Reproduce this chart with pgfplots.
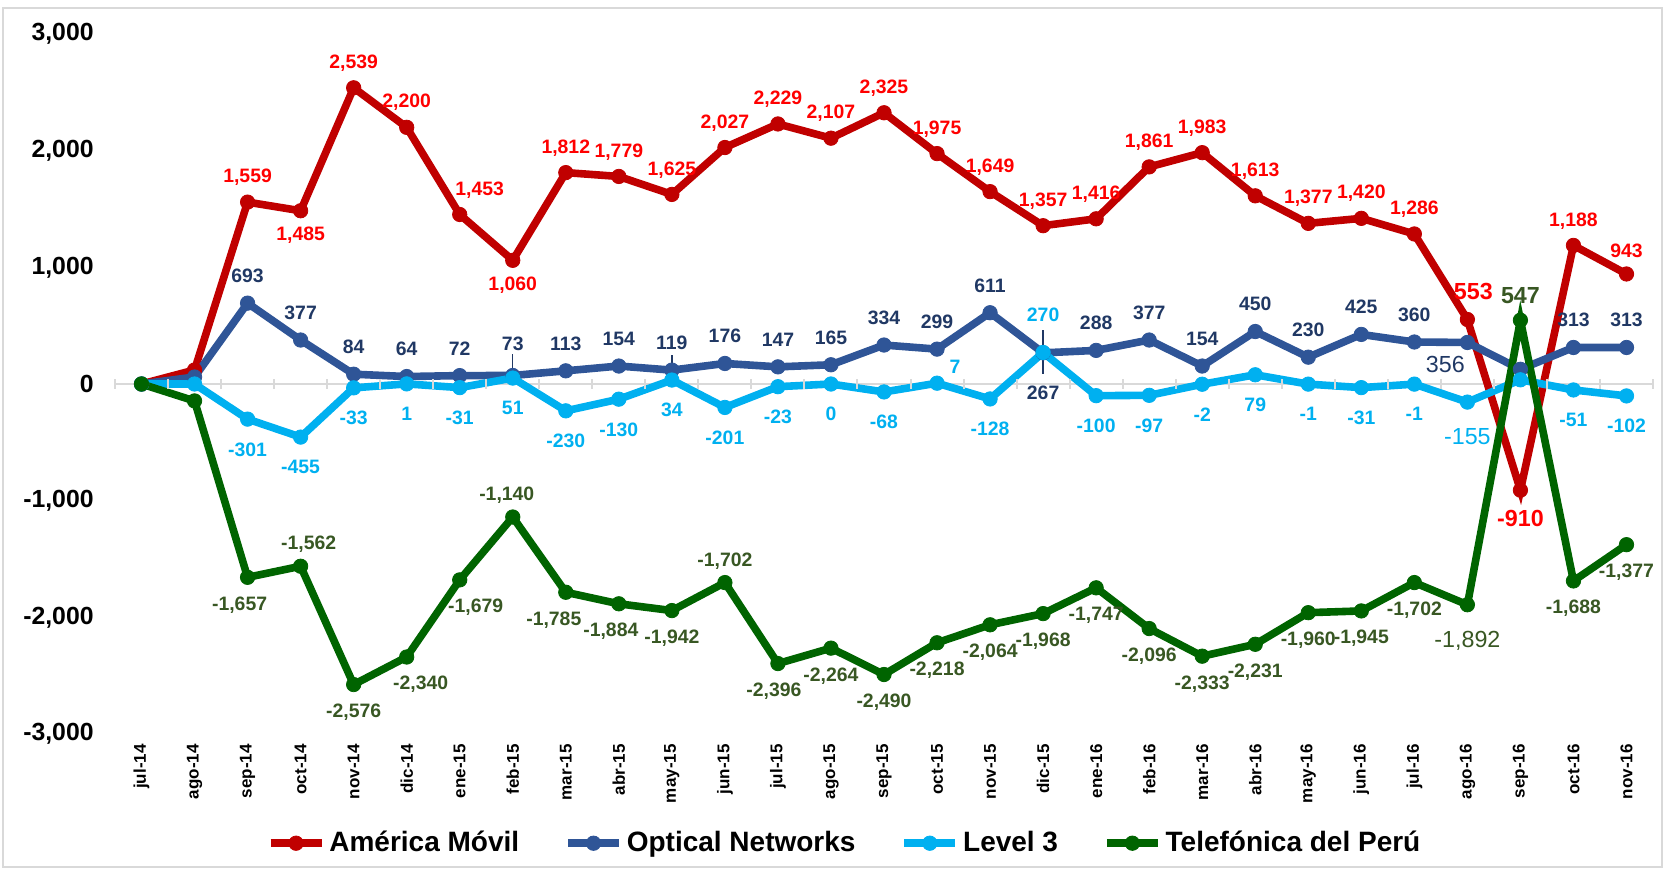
\documentclass[border=0pt]{standalone}
\usepackage{fontspec}
\setmainfont{Liberation Sans}
\usepackage{pgfplots}
\usepackage{pgfplotstable}
\pgfplotsset{compat=1.18}

\definecolor{amLine}{HTML}{C00000}
\definecolor{amText}{HTML}{FF0000}
\definecolor{onLine}{HTML}{2F5597}
\definecolor{onText}{HTML}{203864}
\definecolor{lvLine}{HTML}{00B0F0}
\definecolor{lvText}{HTML}{00B0F0}
\definecolor{tpLine}{HTML}{006400}
\definecolor{tpText}{HTML}{385723}
\definecolor{frameGray}{HTML}{D9D9D9}

% lbl = anchor/xshift(pt)/yshift(pt)/scale/regular weight/shown
\pgfplotstableread{
x y lbl
0 0 south/0/0/1/0/0
1 120 south/0/0/1/0/0
2 1559 south/0/0/1/0/1
3 1485 north/0/0/1/0/1
4 2539 south/0/0/1/0/1
5 2200 south/0/0/1/0/1
6 1453 south/10/0/1/0/1
7 1060 north/0/0/1/0/1
8 1812 south/0/0/1/0/1
9 1779 south/0/0/1/0/1
10 1625 south/0/0/1/0/1
11 2027 south/0/0/1/0/1
12 2229 south/0/0/1/0/1
13 2107 south/0/0/1/0/1
14 2325 south/0/0/1/0/1
15 1975 south/0/0/1/0/1
16 1649 south/0/0/1/0/1
17 1357 south/0/0/1/0/1
18 1416 south/0/0/1/0/1
19 1861 south/0/0/1/0/1
20 1983 south/0/0/1/0/1
21 1613 south/0/0/1/0/1
22 1377 south/0/0/1/0/1
23 1420 south/0/0/1/0/1
24 1286 south/0/0/1/0/1
25 553 south/3/0/1.2/0/1
26 -910 north/0/0/1.2/0/1
27 1188 south/0/0/1/0/1
28 943 south/0/0/1/0/1
}\amovil

\pgfplotstableread{
x y lbl
0 0 south/0/0/1/0/0
1 60 south/0/0/1/0/0
2 693 south/0/0/1/0/1
3 377 south/0/0/1/0/1
4 84 south/0/0/1/0/1
5 64 south/0/0/1/0/1
6 72 south/0/0/1/0/1
7 73 south/0/2/1/0/1
8 113 south/0/0/1/0/1
9 154 south/0/0/1/0/1
10 119 south/0/0/1/0/1
11 176 south/0/0/1/0/1
12 147 south/0/0/1/0/1
13 165 south/0/0/1/0/1
14 334 south/0/0/1/0/1
15 299 south/0/0/1/0/1
16 611 south/0/0/1/0/1
17 267 north/0/-10.5/1/0/1
18 288 south/0/0/1/0/1
19 377 south/0/0/1/0/1
20 154 south/0/0/1/0/1
21 450 south/0/0/1/0/1
22 230 south/0/0/1/0/1
23 425 south/0/0/1/0/1
24 360 south/0/0/1/0/1
25 356 north/-11/1/1.2/1/1
26 126 south/0/0/1/0/0
27 313 south/0/0/1/0/1
28 313 south/0/0/1/0/1
}\optical

\pgfplotstableread{
x y lbl
0 0 north/0/0/1/0/0
1 0 north/0/0/1/0/0
2 -301 north/0/0/1/0/1
3 -455 north/0/0/1/0/1
4 -33 north/0/0/1/0/1
5 1 north/0/0/1/0/1
6 -31 north/0/0/1/0/1
7 51 north/0/0/1/0/1
8 -230 north/0/0/1/0/1
9 -130 north/0/0/1/0/1
10 34 north/0/0/1/0/1
11 -201 north/0/0/1/0/1
12 -23 north/0/0/1/0/1
13 0 north/0/0/1/0/1
14 -68 north/0/0/1/0/1
15 7 south/9/0/1/0/1
16 -128 north/0/0/1/0/1
17 270 south/0/10.5/1/0/1
18 -100 north/0/0/1/0/1
19 -97 north/0/0/1/0/1
20 -2 north/0/0/1/0/1
21 79 north/0/0/1/0/1
22 -1 north/0/0/1/0/1
23 -31 north/0/0/1/0/1
24 -1 north/0/0/1/0/1
25 -155 north/0/0/1.2/1/1
26 36 north/0/0/1/0/0
27 -51 north/0/0/1/0/1
28 -102 north/0/0/1/0/1
}\levelthree

\pgfplotstableread{
x y lbl
0 0 north/0/0/1/0/0
1 -145 north/0/0/1/0/0
2 -1657 north/-4/0/1/0/1
3 -1562 south/4/0/1/0/1
4 -2576 north/0/0/1/0/1
5 -2340 north/7/0/1/0/1
6 -1679 north/8/0/1/0/1
7 -1140 south/-3/0/1/0/1
8 -1785 north/-6/0/1/0/1
9 -1884 north/-4/0/1/0/1
10 -1942 north/0/0/1/0/1
11 -1702 south/0/0/1/0/1
12 -2396 north/-2/0/1/0/1
13 -2264 north/0/0/1/0/1
14 -2490 north/0/0/1/0/1
15 -2218 north/0/0/1/0/1
16 -2064 north/0/0/1/0/1
17 -1968 north/0/0/1/0/1
18 -1747 north/0/0/1/0/1
19 -2096 north/0/0/1/0/1
20 -2333 north/0/0/1/0/1
21 -2231 north/0/0/1/0/1
22 -1960 north/0/0/1/0/1
23 -1945 north/0/0/1/0/1
24 -1702 north/0/0/1/0/1
25 -1892 north/0/-2/1.2/1/1
26 547 south/0/0/1.2/0/1
27 -1688 north/0/0/1/0/1
28 -1377 north/0/0/1/0/1
}\telefonica

\def\lblshow{1}
\def\lblparse#1/#2/#3/#4/#5/#6\relax{%
  \def\lblshow{#6}%
  \pgfkeysalso{/tikz/anchor=#1, /tikz/xshift=#2pt, /tikz/yshift=#3pt, /tikz/scale=#4}%
  \ifnum#5=1 \pgfkeysalso{/tikz/font=\mdseries\fontsize{9.7}{11}\selectfont}\fi}
\tikzset{lbl/.code={\lblparse#1\relax}}

\pgfplotsset{
  serie/.style={#1, line width=3.8pt, mark=*, mark size=3.6pt,
    mark options={solid, fill=#1, line width=0.4pt}},
  etiquetas/.style 2 args={
    draw=none, mark=none, forget plot,
    point meta=explicit symbolic,
    visualization depends on={y \as \rawy},
    nodes near coords={\ifnum\lblshow=1 \pgfmathprintnumber{\rawy}\fi},
    every node near coord/.append style={text=#1, inner xsep=0pt, inner ysep=8pt,
      font=\bfseries\fontsize{9.7}{11}\selectfont, yshift=#2pt,
      lbl/.expand once=\pgfplotspointmeta},
  },
}

\begin{document}
\begin{tikzpicture}
\useasboundingbox (-57.5pt,-70.25pt) rectangle (777pt,367pt);
\draw[frameGray, line width=1.2pt] (-56pt,-66.5pt) rectangle (773.5pt,363pt);
\begin{axis}[
  scale only axis,
  width=769pt, height=350pt,
  at={(0pt,0pt)}, anchor=south west,
  xmin=-0.5, xmax=28.5,
  ymin=-3000, ymax=3000,
  ytick={-3000,-2000,...,3000},
  xtick={0,...,28},
  xticklabels={jul-14,ago-14,sep-14,oct-14,nov-14,dic-14,ene-15,feb-15,mar-15,abr-15,may-15,jun-15,jul-15,ago-15,sep-15,oct-15,nov-15,dic-15,ene-16,feb-16,mar-16,abr-16,may-16,jun-16,jul-16,ago-16,sep-16,oct-16,nov-16},
  axis line style={draw=none},
  major tick length=0pt,
  tick style={draw=none},
  /pgf/number format/1000 sep={,},
  /pgf/number format/assume math mode=true,
  yticklabel style={font=\bfseries\fontsize{12.4}{14}\selectfont, inner sep=0pt},
  yticklabel shift=10.5pt,
  xticklabel style={rotate=90, anchor=east, inner sep=0pt, font=\bfseries\fontsize{8.5}{10}\selectfont},
  xticklabel shift=5pt,
  clip=false,
  legend columns=-1,
  legend style={at={(axis description cs:0.475,-0.156)}, anchor=center, draw=none, fill=none,
    font=\bfseries\fontsize{14}{16}\selectfont,
    /tikz/every even column/.append style={column sep=20.5pt}},
  legend image code/.code={\draw[mark repeat=2, mark phase=2, #1] plot coordinates {(0pt,0pt) (12.75pt,0pt) (25.5pt,0pt)};},
]
\addplot[frameGray, line width=1pt, mark=|, mark size=2.5pt, forget plot] coordinates {
  (-0.5,0) (0.5,0) (1.5,0) (2.5,0) (3.5,0) (4.5,0) (5.5,0) (6.5,0) (7.5,0) (8.5,0)
  (9.5,0) (10.5,0) (11.5,0) (12.5,0) (13.5,0) (14.5,0) (15.5,0) (16.5,0) (17.5,0) (18.5,0)
  (19.5,0) (20.5,0) (21.5,0) (22.5,0) (23.5,0) (24.5,0) (25.5,0) (26.5,0) (27.5,0) (28.5,0)};

\addplot[serie=amLine] table[x=x, y=y] {\amovil};
\addlegendentry{América Móvil}
\addplot[serie=onLine] table[x=x, y=y] {\optical};
\addlegendentry{Optical Networks}
\addplot[serie=lvLine] table[x=x, y=y] {\levelthree};
\addlegendentry{Level 3}
\addplot[serie=tpLine] table[x=x, y=y] {\telefonica};
\addlegendentry{Telefónica del Perú}

% leader lines of moved labels
\addplot[onText, line width=0.7pt, forget plot] coordinates {(7,73) (7,260)};
\addplot[onText, line width=0.7pt, forget plot] coordinates {(10,119) (10,250)};
\addplot[onText, line width=0.7pt, forget plot] coordinates {(17,86) (17,465)};

\addplot[etiquetas={amText}{0}] table[x=x, y=y, meta=lbl] {\amovil};
\addplot[etiquetas={onText}{2}] table[x=x, y=y, meta=lbl] {\optical};
\addplot[etiquetas={lvText}{-3.5}] table[x=x, y=y, meta=lbl] {\levelthree};
\addplot[etiquetas={tpText}{-1.5}] table[x=x, y=y, meta=lbl] {\telefonica};
\end{axis}
\end{tikzpicture}
\end{document}
